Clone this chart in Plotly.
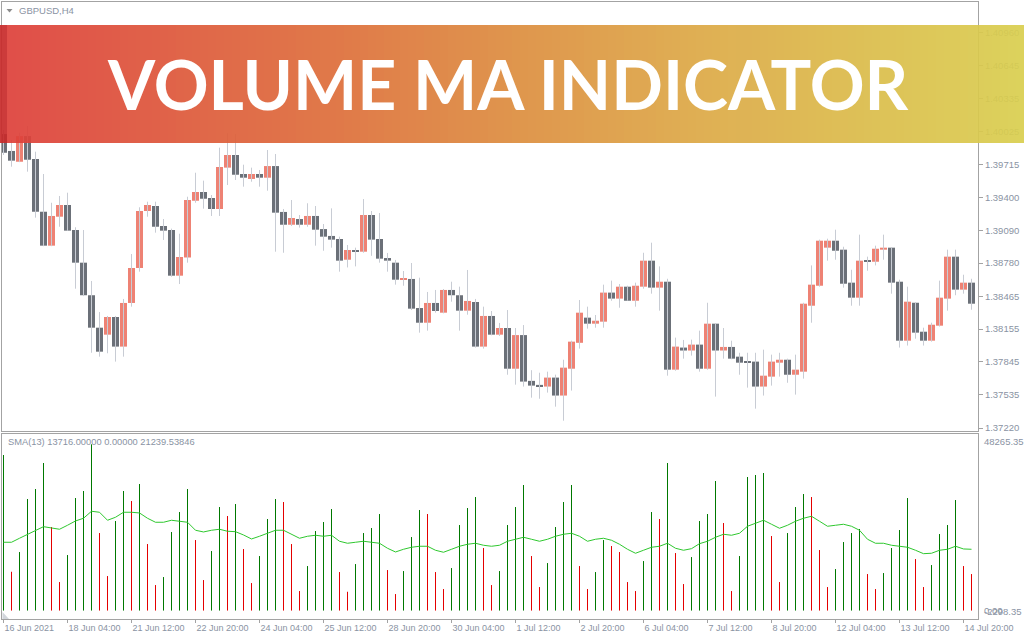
import plotly.graph_objects as go

# ------------------------------------------------------------------ data
symbol_label = "GBPUSD,H4"
sma_label = "SMA(13) 13716.00000 0.00000 21239.53846"
banner_text = "VOLUME MA INDICATOR"

tick_bars = [0, 8, 16, 24, 32, 40, 48, 56, 64, 72, 80, 88, 96, 104, 112, 120]
tick_labels = ["16 Jun 2021", "18 Jun 04:00", "21 Jun 12:00", "22 Jun 20:00",
               "24 Jun 04:00", "25 Jun 12:00", "28 Jun 20:00", "30 Jun 04:00",
               "1 Jul 12:00", "2 Jul 20:00", "6 Jul 04:00", "7 Jul 12:00",
               "8 Jul 20:00", "12 Jul 04:00", "13 Jul 12:00", "14 Jul 20:00"]

price_ticks = [1.40960, 1.40645, 1.40335, 1.40025, 1.39715, 1.39400, 1.39090,
               1.38780, 1.38465, 1.38155, 1.37845, 1.37535, 1.37220]
price_tick_text = ["1.40960", "1.40645", "1.40335", "1.40025", "1.39715", "1.39400",
                   "1.39090", "1.38780", "1.38465", "1.38155", "1.37845", "1.37535",
                   "1.37220"]

vol_axis_values = [48265.35, 0.0, -2298.35]
vol_axis_text = ["48265.35", "0.00", "-2298.35"]

open_ = [
    1.40001, 1.39841, 1.39739, 1.39982, 1.39765, 1.39266, 1.38945, 1.39219, 1.39330, 1.39093,
    1.38784, 1.38476, 1.38169, 1.38103, 1.38270, 1.37990, 1.38403, 1.38734, 1.39273, 1.39320,
    1.39131, 1.39093, 1.38661, 1.38833, 1.39370, 1.39453, 1.39396, 1.39292, 1.39683, 1.39803,
    1.39623, 1.39576, 1.39623, 1.39588, 1.39698, 1.39264, 1.39143, 1.39197, 1.39143, 1.39226,
    1.39102, 1.39037, 1.39008, 1.38812, 1.38904, 1.38888, 1.39235, 1.39008, 1.38828, 1.38784,
    1.38623, 1.38630, 1.38355, 1.38216, 1.38403, 1.38311, 1.38526, 1.38476, 1.38330, 1.38412,
    1.37990, 1.38280, 1.38103, 1.38166, 1.37781, 1.38099, 1.37666, 1.37628, 1.37612, 1.37697,
    1.37527, 1.37781, 1.38026, 1.38264, 1.38207, 1.38226, 1.38501, 1.38444, 1.38557, 1.38424,
    1.38557, 1.38803, 1.38548, 1.38604, 1.37772, 1.37981, 1.37953, 1.38009, 1.37781, 1.38207,
    1.37953, 1.37987, 1.37895, 1.37848, 1.37848, 1.37612, 1.37706, 1.37838, 1.37866, 1.37724,
    1.37753, 1.38377, 1.38566, 1.38926, 1.38992, 1.38907, 1.38595, 1.38453, 1.38803, 1.38793,
    1.38907, 1.38926, 1.38604, 1.38046, 1.38405, 1.38131, 1.38046, 1.38188, 1.38444, 1.38841,
    1.38529, 1.38595]

high = [
    1.40039, 1.39945, 1.40014, 1.40077, 1.39834, 1.39623, 1.39351, 1.39415, 1.39446, 1.39119,
    1.39093, 1.38611, 1.38317, 1.38280, 1.38280, 1.38441, 1.38866, 1.39308, 1.39361, 1.39361,
    1.39197, 1.39106, 1.39058, 1.39408, 1.39635, 1.39560, 1.39424, 1.39872, 1.40009, 1.40001,
    1.39711, 1.39683, 1.39661, 1.39850, 1.39812, 1.39292, 1.39377, 1.39235, 1.39346, 1.39320,
    1.39150, 1.39298, 1.39030, 1.38951, 1.38926, 1.39386, 1.39273, 1.39254, 1.38876, 1.38810,
    1.38705, 1.38781, 1.38642, 1.38507, 1.38526, 1.38535, 1.38604, 1.38557, 1.38715, 1.38441,
    1.38368, 1.38327, 1.38214, 1.38336, 1.38166, 1.38194, 1.37767, 1.37743, 1.37753, 1.37725,
    1.37866, 1.38046, 1.38431, 1.38368, 1.38289, 1.38576, 1.38614, 1.38582, 1.38566, 1.38595,
    1.38878, 1.38973, 1.38749, 1.38632, 1.38075, 1.38053, 1.38056, 1.38141, 1.38405, 1.38210,
    1.38166, 1.38046, 1.37932, 1.37932, 1.37932, 1.37961, 1.37914, 1.37932, 1.37876, 1.37914,
    1.38405, 1.38758, 1.39002, 1.39011, 1.39096, 1.38935, 1.38717, 1.39049, 1.38841, 1.38945,
    1.39049, 1.38930, 1.38623, 1.38557, 1.38410, 1.38169, 1.38216, 1.38614, 1.38907, 1.38907,
    1.38670, 1.38632]

low = [
    1.39803, 1.39692, 1.39735, 1.39645, 1.39210, 1.38940, 1.38940, 1.39124, 1.39085, 1.38538,
    1.38468, 1.37932, 1.37895, 1.37927, 1.37848, 1.37895, 1.38368, 1.38699, 1.39219, 1.39068,
    1.38999, 1.38651, 1.38582, 1.38784, 1.39351, 1.39295, 1.39226, 1.39226, 1.39519, 1.39566,
    1.39503, 1.39550, 1.39503, 1.39465, 1.38888, 1.38878, 1.39131, 1.39116, 1.39124, 1.38945,
    1.38897, 1.38926, 1.38699, 1.38739, 1.38749, 1.38878, 1.38849, 1.38784, 1.38699, 1.38576,
    1.38566, 1.38336, 1.38122, 1.38141, 1.38311, 1.38305, 1.38415, 1.38141, 1.38292, 1.37981,
    1.37971, 1.38097, 1.38091, 1.37724, 1.37630, 1.37612, 1.37507, 1.37497, 1.37555, 1.37422,
    1.37289, 1.37574, 1.37971, 1.38160, 1.38169, 1.38169, 1.38424, 1.38358, 1.38424, 1.38368,
    1.38538, 1.38491, 1.38330, 1.37715, 1.37762, 1.37876, 1.37905, 1.37753, 1.37772, 1.37517,
    1.37876, 1.37870, 1.37724, 1.37602, 1.37403, 1.37527, 1.37621, 1.37706, 1.37648, 1.37536,
    1.37687, 1.38216, 1.38557, 1.38803, 1.38812, 1.38548, 1.38377, 1.38377, 1.38708, 1.38758,
    1.38812, 1.38491, 1.37981, 1.38000, 1.38065, 1.38000, 1.38037, 1.38180, 1.38330, 1.38476,
    1.38491, 1.38339]

close = [
    1.39824, 1.39749, 1.39982, 1.39758, 1.39266, 1.38945, 1.39226, 1.39330, 1.39087, 1.38784,
    1.38476, 1.38169, 1.37942, 1.38270, 1.37990, 1.38403, 1.38734, 1.39273, 1.39330, 1.39124,
    1.39087, 1.38661, 1.38838, 1.39377, 1.39453, 1.39389, 1.39292, 1.39689, 1.39803, 1.39616,
    1.39588, 1.39623, 1.39588, 1.39698, 1.39257, 1.39143, 1.39207, 1.39143, 1.39226, 1.39096,
    1.39030, 1.39002, 1.38803, 1.38904, 1.38888, 1.39235, 1.39002, 1.38822, 1.38803, 1.38623,
    1.38630, 1.38349, 1.38216, 1.38403, 1.38327, 1.38526, 1.38476, 1.38330, 1.38422, 1.37990,
    1.38280, 1.38103, 1.38166, 1.37781, 1.38099, 1.37659, 1.37621, 1.37612, 1.37697, 1.37527,
    1.37791, 1.38037, 1.38311, 1.38207, 1.38235, 1.38501, 1.38444, 1.38557, 1.38424, 1.38566,
    1.38803, 1.38548, 1.38604, 1.37772, 1.37990, 1.37953, 1.38009, 1.37781, 1.38207, 1.37953,
    1.37987, 1.37876, 1.37838, 1.37838, 1.37612, 1.37715, 1.37848, 1.37866, 1.37724, 1.37772,
    1.38396, 1.38576, 1.38992, 1.38992, 1.38897, 1.38585, 1.38453, 1.38803, 1.38793, 1.38916,
    1.38926, 1.38595, 1.38046, 1.38415, 1.38122, 1.38046, 1.38197, 1.38453, 1.38841, 1.38529,
    1.38595, 1.38396]

volume = [
    42405, 10581, 15953, 30406, 33133, 40223, 22770, 7772, 15135, 30679,
    32588, 45323, 21134, 9408, 24407, 32588, 29861, 34497, 18135, 6954,
    9135, 21407, 26861, 33133, 19225, 8317, 16226, 28224, 25770, 29043,
    16771, 7499, 14862, 24952, 30406, 29588, 18135, 5318, 12135, 21680,
    24134, 27679, 10499, 5127, 12681, 21134, 22498, 26316, 11044, 4500,
    10772, 20043, 27406, 26316, 10499, 5863, 11590, 23316, 27952, 30951,
    17044, 6954, 10772, 23316, 28224, 34224, 14862, 6408, 12953, 22770,
    29588, 34224, 12135, 5863, 10499, 19225, 17589, 15953, 7772, 5318,
    13499, 26861, 24952, 40223, 15680, 7227, 14589, 24407, 26316, 35315,
    23861, 5318, 14862, 36405, 36951, 37496, 20316, 7772, 21134, 28224,
    31770, 30951, 16498, 6408, 11317, 18680, 21134, 22225, 9954, 5863,
    10226, 17044, 21952, 30679, 14044, 6408, 12408, 20862, 23316, 30133,
    12135, 9954]

sma13 = [
    18619, 18619, 19709, 20799, 21890, 22871, 22517, 22162, 23253, 24425,
    25161, 27069, 26797, 24616, 25434, 26797, 26797, 26606, 25161, 24071,
    24071, 24616, 24343, 24071, 21890, 21426, 21890, 22162, 21617, 21508,
    20609, 19518, 20254, 21072, 21890, 21890, 20799, 19709, 20254, 20527,
    20254, 20527, 18891, 18346, 18619, 18891, 18619, 18346, 16983, 15974,
    16710, 17256, 17528, 17528, 16438, 15893, 16710, 17528, 18073, 18346,
    17801, 17528, 17801, 18891, 19436, 19981, 19436, 18891, 19436, 20254,
    20799, 21072, 20254, 18891, 19436, 19709, 19164, 18073, 16710, 15620,
    16438, 17256, 17528, 18346, 16983, 16438, 16874, 18237, 18891, 19981,
    20799, 20527, 21072, 22980, 23798, 24616, 23525, 22435, 23253, 24343,
    25161, 25706, 24343, 22980, 23253, 23525, 22980, 21890, 19436, 18346,
    18346, 17801, 17528, 17256, 16438, 15511, 15620, 16438, 16710, 17528,
    16792, 16710]

# ------------------------------------------------------------------ styles
W, H = 1024, 640
L, R, T, B = 2, 46, 2, 21
PW, PH = W - L - R, H - T - B

BULL = "#ee8274"
BEAR = "#6b7078"
WICK = "#c8ccd4"
VOL_UP = "#007800"
VOL_DN = "#e40000"
SMA_COL = "#2fc82f"
FRAME = "#a3a3a3"
LABEL = "#8a93a3"
FONT = "Liberation Sans"


def xp(px):
    return (px - L) / PW


def yp(py):
    return (H - B - py) / PH


bars = list(range(len(open_)))
x_range = [-0.1875, len(bars) - 0.1875]

fig = go.Figure()

# wicks
wx, wy = [], []
for i in bars:
    wx += [i, i, None]
    wy += [low[i], high[i], None]
fig.add_trace(go.Scatter(x=wx, y=wy, mode="lines", line=dict(color=WICK, width=1),
                         hoverinfo="skip", xaxis="x", yaxis="y"))

# bodies
body_base = [min(o, c) for o, c in zip(open_, close)]
body_len = [abs(c - o) for o, c in zip(open_, close)]
body_col = [BULL if c > o else BEAR for o, c in zip(open_, close)]
fig.add_trace(go.Bar(x=bars, y=body_len, base=body_base, width=0.875,
                     marker=dict(color=body_col, line=dict(width=0)),
                     xaxis="x", yaxis="y"))

# volume histogram: thin vertical strokes, green when volume rose, red when it fell
for up, col in ((True, VOL_UP), (False, VOL_DN)):
    vx, vy = [], []
    for i in bars:
        rising = i == 0 or volume[i] > volume[i - 1]
        if rising == up:
            vx += [i, i, None]
            vy += [0, volume[i], None]
    fig.add_trace(go.Scatter(x=vx, y=vy, mode="lines", line=dict(color=col, width=1),
                             hoverinfo="skip", xaxis="x2", yaxis="y2"))

fig.add_trace(go.Scatter(x=bars, y=sma13, mode="lines",
                         line=dict(color=SMA_COL, width=1), xaxis="x2", yaxis="y2"))

axis_common = dict(showgrid=False, zeroline=False, showline=True, mirror=True,
                   linecolor=FRAME, linewidth=1)

fig.update_layout(
    width=W, height=H,
    margin=dict(l=L, r=R, t=T, b=B),
    paper_bgcolor="white", plot_bgcolor="white",
    showlegend=False, barmode="overlay",
    xaxis=dict(domain=[0, 1], range=x_range, anchor="y", showticklabels=False,
               ticks="", **axis_common),
    yaxis=dict(domain=[yp(431), 1], range=[1.371917, 1.412501], side="right",
               tickvals=price_ticks, ticktext=price_tick_text, ticks="outside",
               ticklen=4, tickcolor=FRAME,
               tickfont=dict(family=FONT, size=9.5, color=LABEL), **axis_common),
    xaxis2=dict(domain=[0, 1], range=x_range, anchor="y2", matches="x",
                tickvals=tick_bars, ticktext=tick_labels, ticks="outside",
                ticklen=3, tickcolor=FRAME, ticklabelposition="outside right",
                tickfont=dict(family=FONT, size=9, color=LABEL), **axis_common),
    yaxis2=dict(domain=[0, yp(433.5)], range=[-2298.35, 48265.35], side="right",
                showticklabels=False, ticks="", **axis_common),
)

# gradient banner
stops = [(0.0, (221, 62, 58)), (0.33, (221, 110, 58)), (0.5, (220, 140, 62)),
         (0.66, (220, 165, 68)), (1.0, (217, 206, 78))]


def grad(t):
    for (t0, c0), (t1, c1) in zip(stops[:-1], stops[1:]):
        if t <= t1:
            f = (t - t0) / (t1 - t0)
            return tuple(round(a + (b - a) * f) for a, b in zip(c0, c1))
    return stops[-1][1]


edges = [0, 7] + list(range(8, W + 1, 8))
shapes = []
for a, b in zip(edges[:-1], edges[1:]):
    if a == 0:
        col = (200, 42, 42)
    else:
        col = grad(((a + b) / 2) / W)
    shapes.append(dict(type="rect", xref="paper", yref="paper",
                       x0=xp(a), x1=xp(b), y0=yp(143), y1=yp(25),
                       fillcolor="rgb(%d,%d,%d)" % col, line=dict(width=0),
                       opacity=0.92, layer="above"))

# small glyphs (symbol drop-down arrow, corner marker)
shapes.append(dict(type="path", xref="paper", yref="paper",
                   path="M %f %f L %f %f L %f %f Z" % (xp(6.5), yp(9), xp(12.5), yp(9),
                                                      xp(9.5), yp(12.5)),
                   fillcolor="#8c8c8c", line=dict(width=0), layer="above"))
shapes.append(dict(type="path", xref="paper", yref="paper",
                   path="M %f %f L %f %f L %f %f Z" % (xp(2.5), yp(612), xp(2.5), yp(619),
                                                      xp(9), yp(619)),
                   fillcolor="#d2d6dc", line=dict(width=0), layer="above"))
fig.update_layout(shapes=shapes)

annotations = [
    dict(text=symbol_label, xref="paper", yref="paper", x=xp(17), y=yp(10.5),
         xanchor="left", yanchor="middle", showarrow=False,
         font=dict(family=FONT, size=9.5, color=LABEL)),
    dict(text=sma_label, xref="paper", yref="paper", x=xp(6), y=yp(442),
         xanchor="left", yanchor="middle", showarrow=False,
         font=dict(family=FONT, size=9.3, color=LABEL)),
    dict(text=banner_text, xref="paper", yref="paper", x=xp(507.5), y=yp(84),
         xanchor="center", yanchor="middle", showarrow=False,
         font=dict(family="Lato", size=68, color="white", weight=700)),
]
anchors = ["top", "middle", "bottom"]
for v, t, a in zip(vol_axis_values, vol_axis_text, anchors):
    annotations.append(dict(text=t, xref="paper", yref="y2", x=xp(982), y=v,
                            xanchor="left", yanchor=a, showarrow=False,
                            font=dict(family=FONT, size=9.5, color=LABEL)))
fig.update_layout(annotations=annotations)

# the browser's default 8px page margin would offset the whole figure
fig.write_html("out.html",
               config={"displayModeBar": False},
               post_script="document.body.style.margin='0px';"
                           "document.body.style.padding='0px';")
